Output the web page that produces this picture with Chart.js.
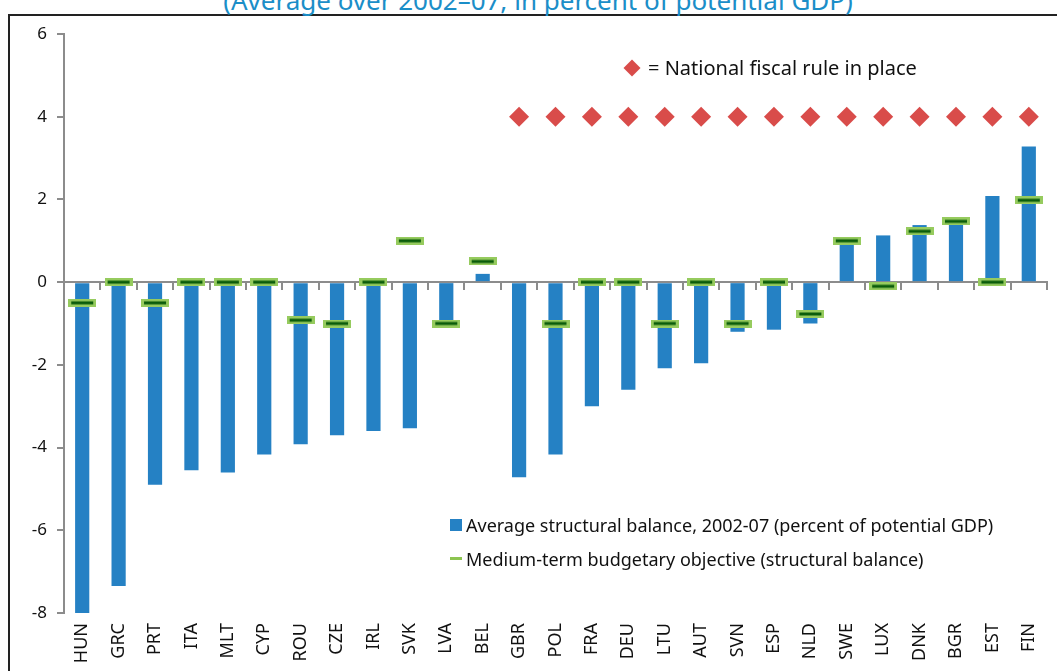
<!DOCTYPE html>
<html>
<head>
<meta charset="utf-8">
<script src="https://cdn.jsdelivr.net/npm/chart.js@4.4.1/dist/chart.umd.min.js"></script>
<style>
  html, body { margin: 0; padding: 0; background: #fff; overflow: hidden; }
  body { width: 1057px; height: 671px; position: relative; font-family: "Noto Sans", sans-serif; }
  #frame { position: absolute; left: 8px; top: 14px; width: 1200px; height: 800px; border: 2px solid #222; box-sizing: border-box; }
  #title { position: absolute; left: 0; width: 1076px; top: -13px; text-align: center; font-size: 26px; line-height: 26px; color: #1b8ec8; white-space: nowrap; }
  #wrap { position: absolute; left: 0; top: 0; width: 1057px; height: 671px; }
  .lg { position: absolute; font-size: 18px; color: #111; white-space: nowrap; line-height: 20px; }
  .sw { position: absolute; }
</style>
</head>
<body>
<div id="frame"></div>
<div id="title">(Average over 2002–07; in percent of potential GDP)</div>
<div id="wrap"><canvas id="chart"></canvas></div>

<div class="sw" style="left:626px;top:62px;width:12px;height:12px;background:#d94c4a;transform:rotate(45deg);"></div>
<div class="lg" style="left:648px;top:57px;font-size:20px;line-height:22px;">= National fiscal rule in place</div>

<div class="sw" style="left:450px;top:519px;width:12px;height:12px;background:#2581c4;"></div>
<div class="lg" style="left:466px;top:515px;">Average structural balance, 2002-07 (percent of potential GDP)</div>
<div class="sw" style="left:450px;top:557px;width:12px;height:3px;background:#8cc450;"></div>
<div class="lg" style="left:466px;top:549px;">Medium-term budgetary objective (structural balance)</div>

<script>
// ===== Data =====
const countries = ['HUN', 'GRC', 'PRT', 'ITA', 'MLT', 'CYP', 'ROU', 'CZE', 'IRL', 'SVK', 'LVA', 'BEL', 'GBR', 'POL',
  'FRA', 'DEU', 'LTU', 'AUT', 'SVN', 'ESP', 'NLD', 'SWE', 'LUX', 'DNK', 'BGR', 'EST', 'FIN'];

// Average structural balance, 2002-07 (percent of potential GDP)
const structuralBalance = [-8.05, -7.35, -4.9, -4.55, -4.6, -4.17, -3.92, -3.7, -3.6, -3.53, -1.1, 0.2, -4.72, -4.17,
  -3.0, -2.6, -2.08, -1.96, -1.2, -1.15, -1.0, 0.9, 1.13, 1.38, 1.45, 2.08, 3.28];

// Medium-term budgetary objective (structural balance)
const mto = [-0.5, 0, -0.5, 0, 0, 0, -0.92, -1.0, 0, 1.0, -1.0, 0.5, null, -1.0,
  0, 0, -1.0, 0, -1.0, 0, -0.77, 1.0, -0.1, 1.23, 1.47, 0, 1.98];

// National fiscal rule in place (marker drawn at 4)
const fiscalRule = [null, null, null, null, null, null, null, null, null, null, null, null, 4, 4,
  4, 4, 4, 4, 4, 4, 4, 4, 4, 4, 4, 4, 4];

const yTicks = { min: -8, max: 6, step: 2 };

// ===== Marker image for the MTO dash =====
function makeDash() {
  const c = document.createElement('canvas');
  c.width = 28;
  c.height = 8;
  const ctx = c.getContext('2d');
  ctx.fillStyle = '#96cb5e';
  ctx.fillRect(0, 0, 28, 8);
  ctx.fillStyle = '#0b5c0b';
  ctx.fillRect(3, 2.5, 22, 3);
  return c;
}

const AXIS_GREY = '#8c8c8c';

new Chart(document.getElementById('chart'), {
  type: 'bar',
  data: {
    labels: countries,
    datasets: [
      {
        type: 'line',
        label: 'Medium-term budgetary objective (structural balance)',
        data: mto,
        showLine: false,
        pointStyle: makeDash(),
        order: 0
      },
      {
        type: 'line',
        label: 'National fiscal rule in place',
        data: fiscalRule,
        showLine: false,
        pointStyle: 'rectRot',
        pointRadius: 10,
        pointBackgroundColor: '#d94c4a',
        pointBorderWidth: 0,
        order: 0
      },
      {
        label: 'Average structural balance, 2002-07 (percent of potential GDP)',
        data: structuralBalance,
        backgroundColor: '#2581c4',
        borderWidth: 0,
        categoryPercentage: 1,
        barPercentage: 0.39,
        order: 1
      }
    ]
  },
  options: {
    responsive: true,
    maintainAspectRatio: false,
    animation: false,
    layout: { padding: { top: 34, right: 10, left: 0, bottom: 0 } },
    scales: {
      x: {
        offset: true,
        grid: { display: false },
        border: { display: false },
        ticks: {
          color: '#111',
          font: { family: '"Noto Sans", sans-serif', size: 18 },
          minRotation: 90,
          maxRotation: 90,
          padding: 2
        },
        afterFit: (scale) => { scale.height = 58; }
      },
      x2: {
        type: 'category',
        position: { y: 0 },
        offset: true,
        grid: { offset: true, drawOnChartArea: false, tickLength: 7, color: AXIS_GREY, lineWidth: 2 },
        border: { display: true, color: AXIS_GREY, width: 2 },
        ticks: { display: false }
      },
      y: {
        min: yTicks.min,
        max: yTicks.max,
        ticks: {
          stepSize: yTicks.step,
          color: '#111',
          font: { family: '"Noto Sans", sans-serif', size: 17 },
          padding: 10
        },
        grid: { drawOnChartArea: false, tickLength: 7, color: AXIS_GREY, lineWidth: 2 },
        border: { display: true, color: AXIS_GREY, width: 2 },
        afterFit: (scale) => { scale.width = 64; }
      }
    },
    plugins: {
      legend: { display: false },
      tooltip: { enabled: false }
    }
  }
});
</script>
</body>
</html>
